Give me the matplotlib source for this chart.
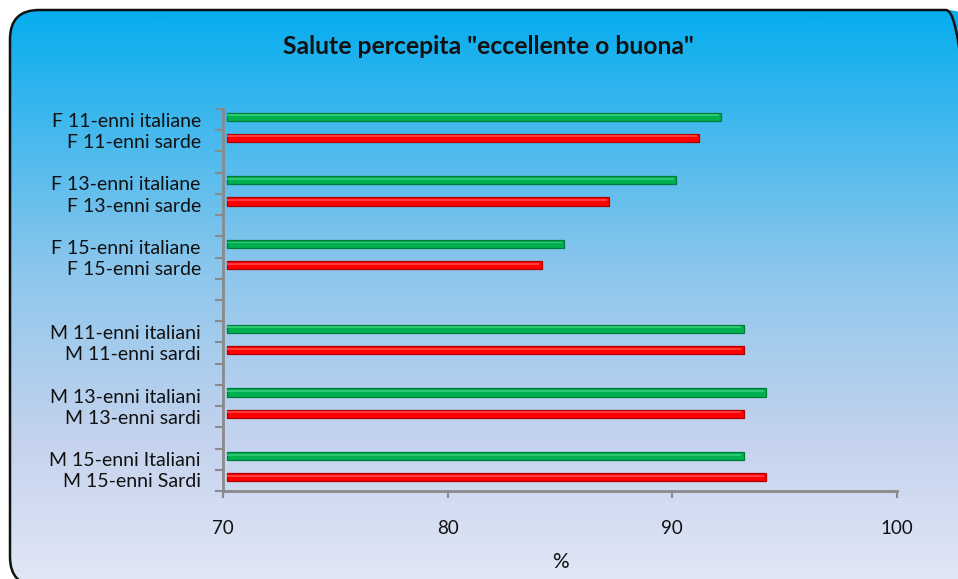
import numpy as np
import matplotlib
matplotlib.use("Agg")
import matplotlib.pyplot as plt
from matplotlib.patches import FancyBboxPatch
from matplotlib.colors import LinearSegmentedColormap
from matplotlib.transforms import ScaledTranslation

# ---------------- data ----------------
categories = [
    "F 11-enni italiane", "F 11-enni sarde", "",
    "F 13-enni italiane", "F 13-enni sarde", "",
    "F 15-enni italiane", "F 15-enni sarde", "", "",
    "M 11-enni italiani", "M 11-enni sardi", "",
    "M 13-enni italiani", "M 13-enni sardi", "",
    "M 15-enni Italiani", "M 15-enni Sardi",
]
values = [92, 91, None, 90, 87, None, 85, 84, None, None,
          93, 93, None, 94, 93, None, 93, 94]
origin = ["IT", "SA", "", "IT", "SA", "", "IT", "SA", "", "",
          "IT", "SA", "", "IT", "SA", "", "IT", "SA"]
xticks = [70, 80, 90, 100]
title = 'Salute percepita "eccellente o buona"'
xlabel = "%"

FONT = ["Lato", "DejaVu Sans"]
plt.rcParams["font.family"] = FONT

W, H = 958, 579
fig = plt.figure(figsize=(W / 100, H / 100), dpi=100)

# ---------------- background (pixel coords, y measured upward) ----------------
bg = fig.add_axes([0, 0, 1, 1], zorder=0)
bg.axis("off")
cmap = LinearSegmentedColormap.from_list(
    "bgc", [(0.0, "#06adef"), (0.45, "#8cc6ec"), (0.75, "#c5d3ee"), (1.0, "#e2e8f6")])
grad = np.linspace(0, 1, 256)[:, None]
bx0, btop, bx1, bbot = 10, 10, 975, 586          # box edges in image pixels
im = bg.imshow(grad, extent=[bx0 - 1, bx1, H - bbot - 2, H - btop + 1],
               cmap=cmap, aspect="auto", interpolation="bicubic")
box = FancyBboxPatch((bx0, H - bbot), bx1 - bx0, bbot - btop,
                     boxstyle="round,pad=0,rounding_size=29",
                     fc="none", ec="#111111", lw=1.8)
bg.add_patch(box)
im.set_clip_path(box)
bg.set_xlim(0, W)
bg.set_ylim(0, H)

# ---------------- main axes ----------------
x0, x1, ytop, ybot = 223, 897, 109, 491
ax = fig.add_axes([x0 / W, 1 - ybot / H, (x1 - x0) / W, (ybot - ytop) / H], zorder=1)
ax.patch.set_alpha(0)
n = len(categories)
ax.set_xlim(70, 100)
ax.set_ylim(n - 0.5, -0.5)

colors = {"IT": ("#00b050", "#007a3a", "#2cc870"),
          "SA": ("#ff0000", "#b00000", "#ff3a3a")}
off = ScaledTranslation(4 / 100, 3 / 100, fig.dpi_scale_trans)
for i, (v, o) in enumerate(zip(values, origin)):
    if v is None:
        continue
    fc, ec, hl = colors[o]
    ax.barh(i, v - 70, left=70, height=0.38, color=fc, edgecolor=ec, lw=0.9,
            transform=ax.transData + off, zorder=3)
    ax.barh(i - 0.07, v - 70 - 0.1, left=70, height=0.09, color=hl, lw=0,
            transform=ax.transData + off, zorder=4)

grey = "#8a8a8a"
for s in ["top", "right"]:
    ax.spines[s].set_visible(False)
for s in ["left", "bottom"]:
    ax.spines[s].set_color(grey)
    ax.spines[s].set_linewidth(2.0)

ax.set_yticks(range(n))
ax.set_yticklabels(categories, fontsize=14, color="#111111")
ax.set_yticks(np.arange(-0.5, n, 1.0), minor=True)
ax.tick_params(axis="y", which="major", length=0, pad=16)
ax.tick_params(axis="y", which="minor", length=6, width=1.5, color=grey, direction="out")

ax.set_xticks(xticks)
ax.set_xticklabels([str(t) for t in xticks], fontsize=13.5, color="#111111")
ax.tick_params(axis="x", length=5, width=1.5, color=grey, direction="out", pad=16)

fig.text(488 / W, 1 - 47 / H, title, ha="center", va="center",
         fontsize=17.8, fontweight="bold", color="#111111")
fig.text(560 / W, 1 - 562 / H, xlabel, ha="center", va="center",
         fontsize=15, color="#111111")

fig.savefig("out.png", dpi=100)
